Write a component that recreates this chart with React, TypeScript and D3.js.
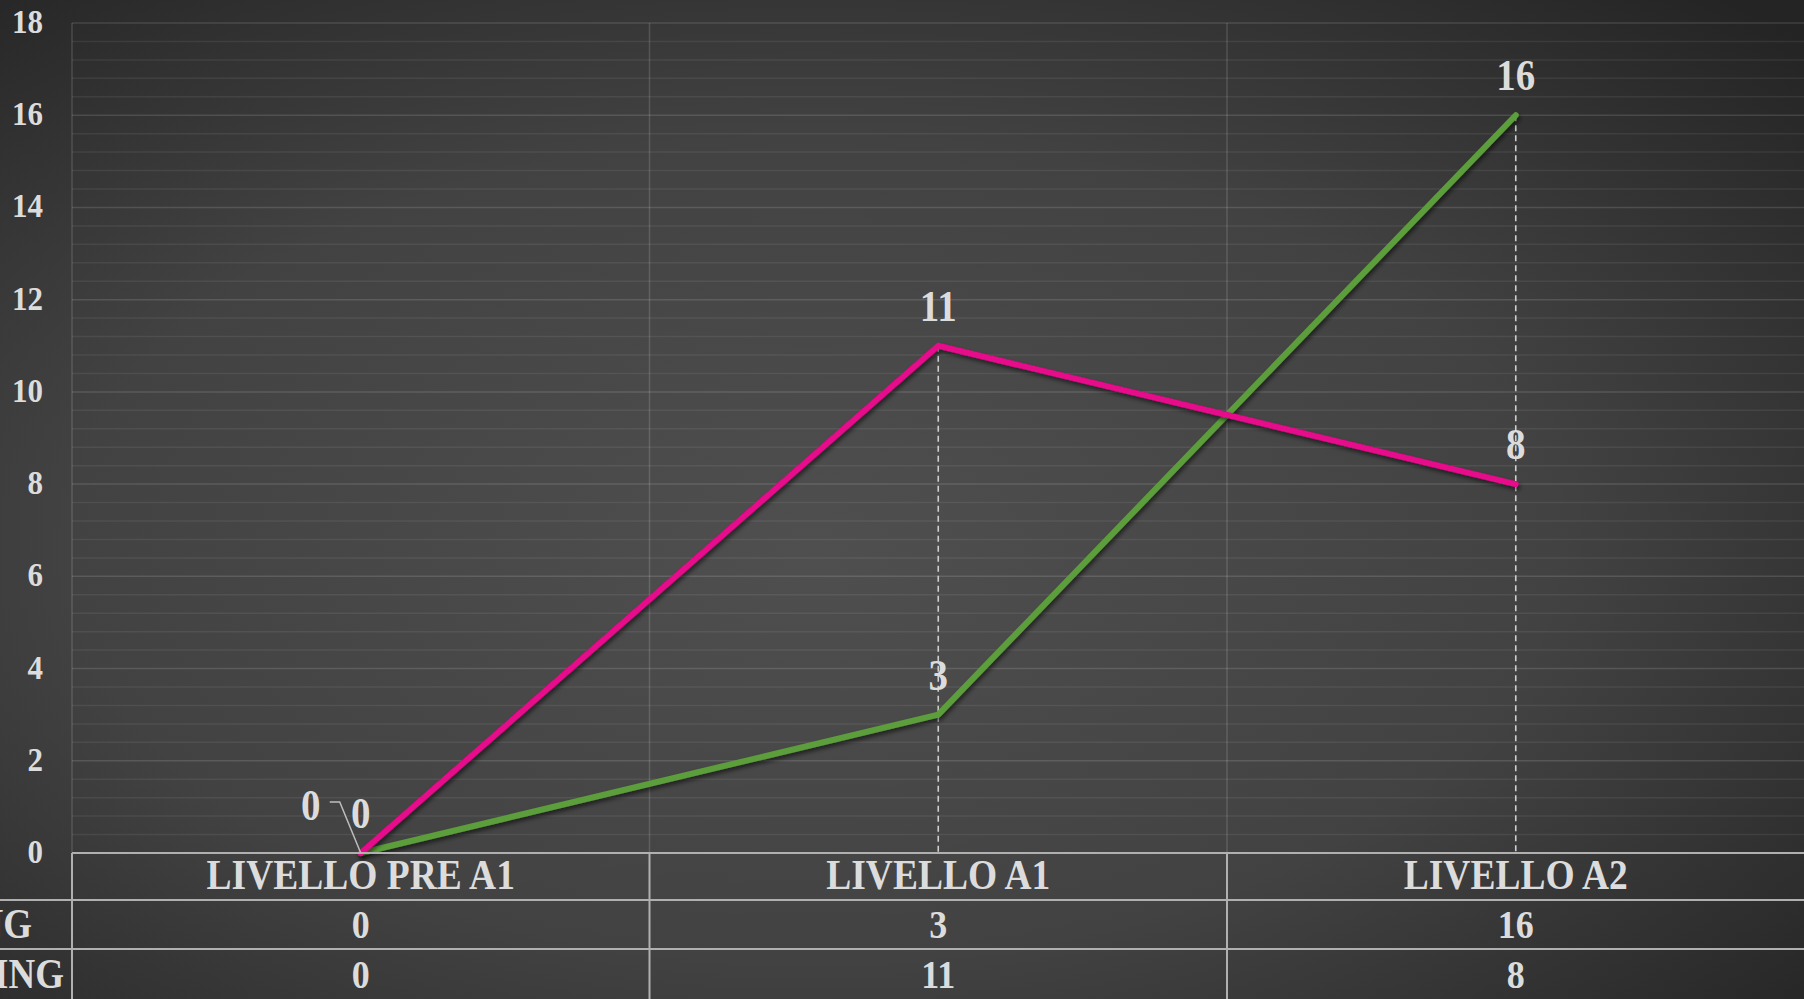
import * as d3 from "d3";

const categories = ["LIVELLO PRE A1", "LIVELLO A1", "LIVELLO A2"];
const seriesNames = ["READING", "LISTENING"];
const greenValues = [0, 3, 16];
const pinkValues = [0, 11, 8];
const yTicks = [0, 2, 4, 6, 8, 10, 12, 14, 16, 18];

const W = 1804;
const H = 999;
const FONT = "'Liberation Serif', 'Times New Roman', serif";
const TXT = "#dcdcdc";
const SY = 1.12; // text looks stretched vertically in the reference

function T({
  x,
  y,
  size,
  anchor = "middle",
  children,
}: {
  x: number;
  y: number;
  size: number;
  anchor?: string;
  children: any;
}) {
  return (
    <g transform={`translate(${x},${y}) scale(1,${SY})`}>
      <text
        x={0}
        y={0}
        fontFamily={FONT}
        fontWeight="bold"
        fontSize={size}
        fill={TXT}
        textAnchor={anchor}
      >
        {children}
      </text>
    </g>
  );
}

export default function App() {
  const left = 72;
  const x = d3.scaleBand<string>().domain(categories).range([left, W + 0.5]);
  const y = d3.scaleLinear().domain([0, 18]).range([853, 23]);
  const cx = (c: string) => (x(c) ?? 0) + x.bandwidth() / 2;
  const rowTop = [y(0), 900, 949, H];

  const minor = d3.range(0, 18.001, 0.4);
  const series = [
    { name: seriesNames[0], values: greenValues, color: "#5c9e3a" },
    { name: seriesNames[1], values: pinkValues, color: "#e6078b" },
  ];
  const line = d3
    .line<number>()
    .x((_, i) => cx(categories[i]))
    .y((d) => y(d));

  return (
    <svg
      width={W}
      height={H}
      style={{ position: "absolute", left: 0, top: 0, display: "block" }}
    >
      <defs>
        <radialGradient id="bg" cx="0.45" cy="0.55" r="0.75">
          <stop offset="0" stopColor="#4f4f4f" />
          <stop offset="0.55" stopColor="#424242" />
          <stop offset="1" stopColor="#242424" />
        </radialGradient>
        <filter id="sh" x="-10%" y="-10%" width="120%" height="130%">
          <feDropShadow dx="1.5" dy="3" stdDeviation="2" floodColor="#000" floodOpacity="0.55" />
        </filter>
      </defs>
      <rect x={0} y={0} width={W} height={H} fill="url(#bg)" />

      {/* minor + major gridlines */}
      {minor.map((v, i) => (
        <line
          key={"m" + i}
          x1={left}
          x2={W}
          y1={y(v)}
          y2={y(v)}
          stroke="#fff"
          strokeOpacity={i % 5 === 0 ? 0.13 : 0.07}
          strokeWidth={1.5}
        />
      ))}
      {/* vertical gridlines in plot */}
      {categories.map((c) => (
        <line
          key={"v" + c}
          x1={x(c)}
          x2={x(c)}
          y1={y(18)}
          y2={y(0)}
          stroke="#fff"
          strokeOpacity={0.14}
          strokeWidth={1.5}
        />
      ))}

      {/* y tick labels */}
      {yTicks.map((t) => (
        <T key={"t" + t} x={43} y={y(t) + 10} size={31} anchor="end">
          {t}
        </T>
      ))}

      {/* drop lines */}
      {categories.map((c, i) => {
        const top = Math.max(greenValues[i], pinkValues[i]);
        return top > 0 ? (
          <line
            key={"d" + c}
            x1={cx(c)}
            x2={cx(c)}
            y1={y(top)}
            y2={y(0)}
            stroke="#cfcfcf"
            strokeWidth={1.6}
            strokeDasharray="6,4"
          />
        ) : null;
      })}

      {/* series lines */}
      {series.map((s) => (
        <path
          key={s.name}
          d={line(s.values) ?? ""}
          fill="none"
          stroke={s.color}
          strokeWidth={6}
          strokeLinejoin="round"
          strokeLinecap="round"
          filter="url(#sh)"
        />
      ))}

      {/* table lines */}
      <line x1={left} x2={W} y1={y(0)} y2={y(0)} stroke="#b0b0b0" strokeWidth={2} />
      <line x1={0} x2={W} y1={rowTop[1]} y2={rowTop[1]} stroke="#b0b0b0" strokeWidth={2} />
      <line x1={0} x2={W} y1={rowTop[2]} y2={rowTop[2]} stroke="#b0b0b0" strokeWidth={2} />
      {categories.map((c) => (
        <line
          key={"tv" + c}
          x1={x(c)}
          x2={x(c)}
          y1={y(0)}
          y2={H}
          stroke="#b0b0b0"
          strokeWidth={2}
        />
      ))}

      {/* category labels and table values */}
      {categories.map((c, i) => (
        <g key={"c" + c}>
          <T x={cx(c)} y={889} size={37.5}>
            {c}
          </T>
          <T x={cx(c)} y={938} size={36}>
            {greenValues[i]}
          </T>
          <T x={cx(c)} y={988} size={36}>
            {pinkValues[i]}
          </T>
        </g>
      ))}
      {/* series names (clipped at the left edge, as in the reference) */}
      <T x={32} y={938} size={37} anchor="end">
        {seriesNames[0]}
      </T>
      <T x={64} y={988} size={37} anchor="end">
        {seriesNames[1]}
      </T>

      {/* data labels */}
      {series.map((s, si) =>
        s.values.map((v, i) => {
          const px = cx(categories[i]);
          const py = y(v);
          if (si === 1 && i === 0) {
            return (
              <g key={s.name + i}>
                <polyline
                  points={`${px - 31},${py - 51} ${px - 21},${py - 51} ${px},${py}`}
                  fill="none"
                  stroke="#bdbdbd"
                  strokeWidth={1.5}
                />
                <T x={px - 50} y={py - 33} size={39}>
                  {v}
                </T>
              </g>
            );
          }
          return (
            <T key={s.name + i} x={px} y={py - 25} size={39}>
              {v}
            </T>
          );
        })
      )}
    </svg>
  );
}
